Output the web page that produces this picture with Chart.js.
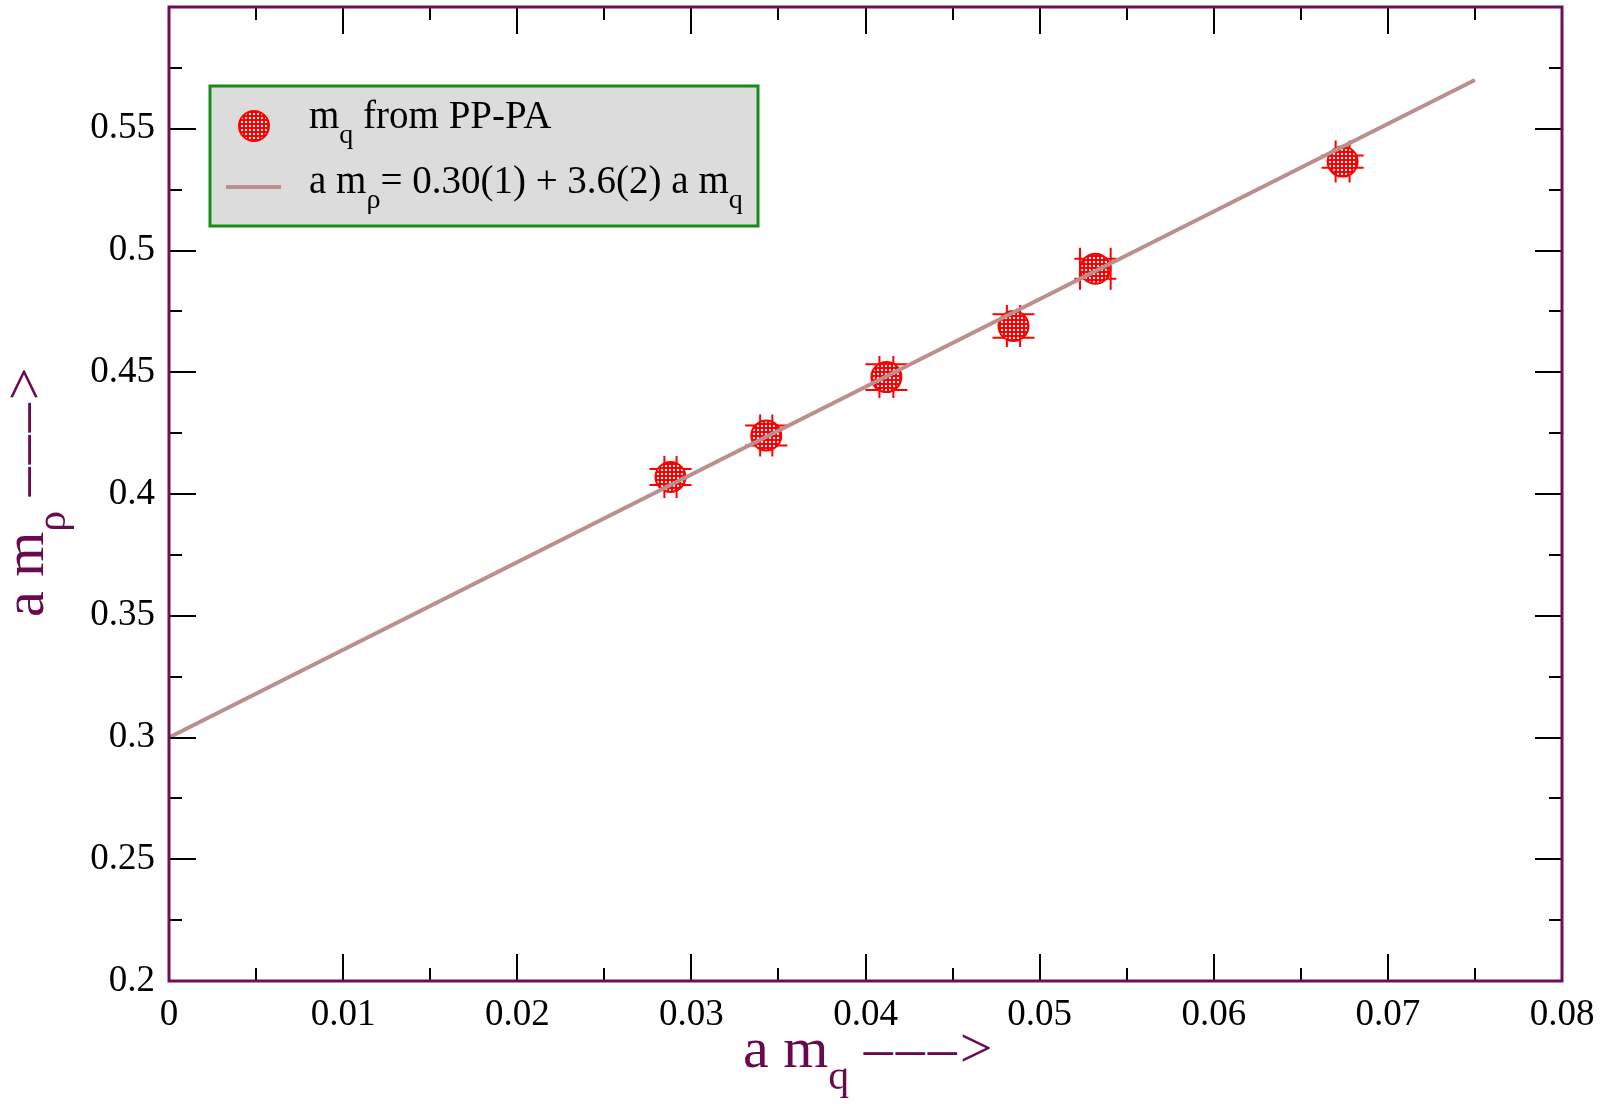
<!DOCTYPE html>
<html><head><meta charset="utf-8">
<script src="https://cdn.jsdelivr.net/npm/chart.js@4.4.0/dist/chart.umd.min.js"></script>
<style>html,body{margin:0;padding:0;background:#fff;}#wrap{width:1606px;height:1104px;position:relative}</style>
</head><body><div id="wrap"><canvas id="c" width="1606" height="1104"></canvas></div>
<script>
// ---- data ----
const amq      = [0.0288, 0.0343, 0.0412, 0.0485, 0.0532, 0.0674];
const amRho    = [0.407, 0.424, 0.448, 0.469, 0.4925, 0.5365];
const amqErr   = [0.00035, 0.00035, 0.0004, 0.00038, 0.00088, 0.0004];
const amRhoErr = [0.0033, 0.0041, 0.0053, 0.0048, 0.0041, 0.0025];
const fitX = [0, 0.075];
const fitY = [0.30, 0.57];
const xTickValues = [0, 0.01, 0.02, 0.03, 0.04, 0.05, 0.06, 0.07, 0.08];
const xTickLabels = ['0', '0.01', '0.02', '0.03', '0.04', '0.05', '0.06', '0.07', '0.08'];
const xMinorValues = [0.005, 0.015, 0.025, 0.035, 0.045, 0.055, 0.065, 0.075];
const yTickValues = [0.2, 0.25, 0.3, 0.35, 0.4, 0.45, 0.5, 0.55, 0.6];
const yTickLabels = ['0.2', '0.25', '0.3', '0.35', '0.4', '0.45', '0.5', '0.55', ''];
const yMinorValues = [0.225, 0.275, 0.325, 0.375, 0.425, 0.475, 0.525, 0.575];
const seriesLabel = 'm_q from PP-PA';
const fitLabel = 'a m_ρ= 0.30(1) + 3.6(2) a m_q';

const SERIF = '"Liberation Serif", "DejaVu Serif", serif';
const MAROON = '#6a0a4c';
const FRAME = '#700f55';

function makePattern() {
  const p = document.createElement('canvas');
  p.width = 4; p.height = 4;
  const g = p.getContext('2d');
  g.fillStyle = '#ff0000'; g.fillRect(0, 0, 4, 4);
  g.fillStyle = '#ffffff'; g.fillRect(1, 1, 2, 2);
  return g.createPattern(p, 'repeat');
}
const ctx0 = document.getElementById('c').getContext('2d');
const pattern = makePattern();

// parts: [text, kind] kind: 0 normal, 1 subscript, 2 dash-arrow
function drawRich(ctx, x, y, parts, size, subRatio, subShift) {
  let cx = x;
  for (const [t, kind] of parts) {
    if (kind === 2) {
      ctx.font = size + 'px ' + SERIF;
      cx += ctx.measureText(' ').width;
      for (let k = 0; k < 3; k++) {
        ctx.fillText('–', cx, y);
        cx += ctx.measureText('–').width + 3;
      }
      ctx.fillText('>', cx, y);
      cx += ctx.measureText('>').width;
      continue;
    }
    const fs = kind === 1 ? size * subRatio : size;
    ctx.font = fs + 'px ' + SERIF;
    ctx.fillText(t, cx, kind === 1 ? y + size * subShift : y);
    cx += ctx.measureText(t).width;
  }
  return cx;
}

const decor = {
  id: 'decor',
  beforeDatasetsDraw(chart) {
    const { ctx, scales: { x, y } } = chart;
    ctx.save();
    ctx.strokeStyle = '#ff0000';
    ctx.lineWidth = 2;
    const cap = 21;
    for (let i = 0; i < amq.length; i++) {
      const px = x.getPixelForValue(amq[i]);
      const py = y.getPixelForValue(amRho[i]);
      const x1 = x.getPixelForValue(amq[i] - amqErr[i]);
      const x2 = x.getPixelForValue(amq[i] + amqErr[i]);
      const y1 = y.getPixelForValue(amRho[i] - amRhoErr[i]);
      const y2 = y.getPixelForValue(amRho[i] + amRhoErr[i]);
      ctx.beginPath();
      ctx.moveTo(x1, py); ctx.lineTo(x2, py);
      ctx.moveTo(px, y1); ctx.lineTo(px, y2);
      ctx.moveTo(x1, py - cap); ctx.lineTo(x1, py + cap);
      ctx.moveTo(x2, py - cap); ctx.lineTo(x2, py + cap);
      ctx.moveTo(px - cap, y1); ctx.lineTo(px + cap, y1);
      ctx.moveTo(px - cap, y2); ctx.lineTo(px + cap, y2);
      ctx.stroke();
    }
    ctx.restore();
  },
  afterDraw(chart) {
    const { ctx, chartArea: a, scales: { x, y } } = chart;
    ctx.save();
    ctx.strokeStyle = '#000';
    ctx.lineWidth = 2;
    const MAJ = 27, MIN = 13;
    ctx.beginPath();
    const xt = (v, L) => { const p = Math.round(x.getPixelForValue(v)); ctx.moveTo(p, a.bottom); ctx.lineTo(p, a.bottom - L); ctx.moveTo(p, a.top); ctx.lineTo(p, a.top + L); };
    const yt = (v, L) => { const p = Math.round(y.getPixelForValue(v)); ctx.moveTo(a.left, p); ctx.lineTo(a.left + L, p); ctx.moveTo(a.right, p); ctx.lineTo(a.right - L, p); };
    xTickValues.forEach(v => xt(v, MAJ)); xMinorValues.forEach(v => xt(v, MIN));
    yTickValues.forEach(v => yt(v, MAJ)); yMinorValues.forEach(v => yt(v, MIN));
    ctx.stroke();
    ctx.strokeStyle = FRAME;
    ctx.lineWidth = 3;
    ctx.strokeRect(a.left, a.top, a.right - a.left, a.bottom - a.top);

    // legend
    const lx = 210, ly = 86, lw = 548, lh = 140;
    ctx.fillStyle = '#dcdcdc';
    ctx.fillRect(lx, ly, lw, lh);
    ctx.strokeStyle = '#1a8a1a';
    ctx.lineWidth = 3;
    ctx.strokeRect(lx, ly, lw, lh);
    ctx.beginPath();
    ctx.arc(254, 126, 15, 0, Math.PI * 2);
    ctx.fillStyle = pattern; ctx.fill();
    ctx.strokeStyle = '#ff0000'; ctx.lineWidth = 2; ctx.stroke();
    ctx.strokeStyle = '#bc8f8f'; ctx.lineWidth = 4;
    ctx.beginPath(); ctx.moveTo(226, 187); ctx.lineTo(281, 187); ctx.stroke();
    ctx.fillStyle = '#000';
    ctx.textBaseline = 'alphabetic';
    ctx.textAlign = 'left';
    const LF = 39;
    drawRich(ctx, 309, 128, [['m', 0], ['q', 1], [' from PP-PA', 0]], LF, 0.72, 0.38);
    drawRich(ctx, 309, 193, [['a m', 0], ['ρ', 1], ['= 0.30(1) + 3.6(2) a m', 0], ['q', 1]], LF, 0.72, 0.38);

    // axis titles
    ctx.fillStyle = MAROON;
    const TF = 58;
    drawRich(ctx, 743, 1067, [['a m', 0], ['q', 1], ['', 2]], TF, 0.72, 0.38);
    ctx.translate(43, 617);
    ctx.rotate(-Math.PI / 2);
    drawRich(ctx, 0, 0, [['a m', 0], ['ρ', 1], ['', 2]], TF, 0.72, 0.38);
    ctx.restore();
  }
};

new Chart(ctx0, {
  type: 'scatter',
  data: {
    datasets: [
      {
        label: fitLabel,
        type: 'line',
        data: fitX.map((v, i) => ({ x: v, y: fitY[i] })),
        borderColor: '#bc8f8f',
        borderWidth: 4,
        pointRadius: 0,
        fill: false,
        order: 1
      },
      {
        label: seriesLabel,
        data: amq.map((v, i) => ({ x: v, y: amRho[i] })),
        pointRadius: 15,
        pointBackgroundColor: pattern,
        pointBorderColor: '#ff0000',
        pointBorderWidth: 2,
        order: 2
      }
    ]
  },
  options: {
    responsive: false,
    animation: false,
    events: [],
    layout: { autoPadding: false, padding: { left: 0, top: 7, right: 44, bottom: 0 } },
    plugins: { legend: { display: false }, tooltip: { enabled: false } },
    scales: {
      x: {
        type: 'linear', min: 0, max: 0.08,
        afterBuildTicks: s => { s.ticks = xTickValues.map(v => ({ value: v })); },
        afterFit: s => { s.height = 123; s.paddingLeft = 0; s.paddingRight = 0; },
        grid: { display: false, drawTicks: false },
        border: { display: false },
        ticks: {
          autoSkip: false, maxRotation: 0, padding: 12, color: '#000',
          font: { family: SERIF, size: 37 },
          callback: (v, i) => xTickLabels[i]
        }
      },
      y: {
        type: 'linear', min: 0.2, max: 0.6,
        afterBuildTicks: s => { s.ticks = yTickValues.map(v => ({ value: v })); },
        afterFit: s => { s.width = 169; s.paddingTop = 0; s.paddingBottom = 0; },
        grid: { display: false, drawTicks: false },
        border: { display: false },
        ticks: {
          autoSkip: false, padding: 14, color: '#000',
          font: { family: SERIF, size: 37 },
          callback: (v, i) => yTickLabels[i]
        }
      }
    }
  },
  plugins: [decor]
});
</script></body></html>
